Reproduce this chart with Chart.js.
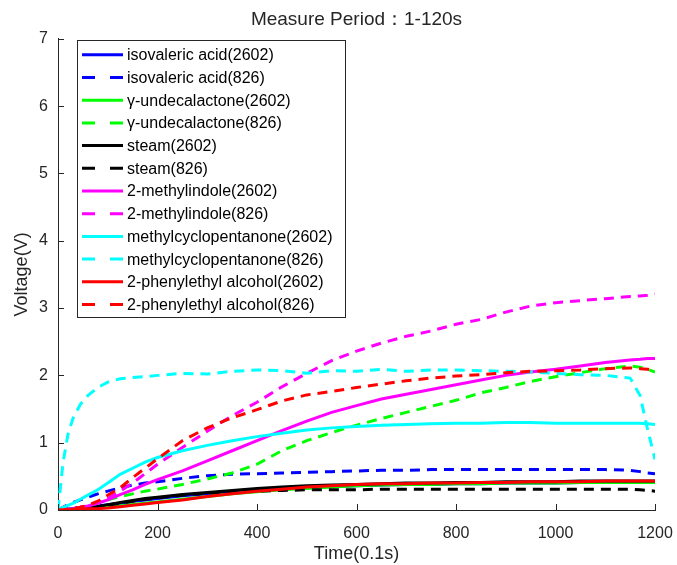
<!DOCTYPE html>
<html>
<head>
<meta charset="utf-8">
<script src="https://cdn.jsdelivr.net/npm/chart.js@4.4.1/dist/chart.umd.min.js"></script>
<style>
  html, body { margin: 0; padding: 0; background: #fff; }
  #wrap { width: 677px; height: 565px; position: relative; }
</style>
</head>
<body>
<div id="wrap"><canvas id="c" width="677" height="565"></canvas></div>
<script>
// ---- data ----
const times = [0, 5, 10, 20, 30, 45, 60, 80, 100, 125, 150, 175, 200, 250, 300, 350, 400, 450, 500, 550, 600, 650, 700, 750, 800, 850, 900, 950, 1000, 1050, 1100, 1150, 1170, 1185, 1200];

const isovaleric2602 = [0, 0, 0.01, 0.01, 0.02, 0.03, 0.04, 0.06, 0.08, 0.1, 0.13, 0.15, 0.17, 0.21, 0.24, 0.27, 0.3, 0.32, 0.34, 0.35, 0.36, 0.37, 0.38, 0.38, 0.39, 0.39, 0.4, 0.4, 0.4, 0.41, 0.41, 0.41, 0.41, 0.41, 0.41];
const isovaleric826 = [0, 0.02, 0.04, 0.08, 0.11, 0.15, 0.19, 0.24, 0.28, 0.33, 0.37, 0.4, 0.42, 0.47, 0.51, 0.53, 0.54, 0.55, 0.56, 0.57, 0.58, 0.59, 0.59, 0.6, 0.6, 0.6, 0.6, 0.6, 0.6, 0.6, 0.6, 0.59, 0.57, 0.55, 0.54];
const undecalactone2602 = [0, 0, 0, 0.01, 0.01, 0.01, 0.02, 0.03, 0.04, 0.06, 0.08, 0.1, 0.12, 0.16, 0.2, 0.24, 0.27, 0.3, 0.32, 0.34, 0.36, 0.37, 0.38, 0.38, 0.39, 0.39, 0.4, 0.4, 0.4, 0.41, 0.41, 0.41, 0.41, 0.41, 0.41];
const undecalactone826 = [0, 0, 0, 0.01, 0.01, 0.02, 0.05, 0.1, 0.15, 0.2, 0.24, 0.28, 0.31, 0.38, 0.46, 0.55, 0.68, 0.88, 1.03, 1.15, 1.26, 1.36, 1.45, 1.54, 1.63, 1.74, 1.82, 1.91, 1.98, 2.04, 2.1, 2.14, 2.12, 2.09, 2.05];
const steam2602 = [0, 0, 0, 0.01, 0.01, 0.02, 0.03, 0.05, 0.08, 0.11, 0.14, 0.17, 0.19, 0.23, 0.26, 0.29, 0.32, 0.34, 0.36, 0.37, 0.38, 0.39, 0.4, 0.4, 0.41, 0.41, 0.42, 0.42, 0.42, 0.43, 0.43, 0.43, 0.43, 0.43, 0.43];
const steam826 = [0, 0, 0, 0.01, 0.01, 0.02, 0.03, 0.05, 0.07, 0.1, 0.13, 0.16, 0.18, 0.22, 0.25, 0.27, 0.28, 0.29, 0.3, 0.3, 0.3, 0.31, 0.31, 0.31, 0.31, 0.31, 0.31, 0.31, 0.31, 0.31, 0.31, 0.31, 0.3, 0.29, 0.28];
const methylindole2602 = [0, 0, 0.01, 0.01, 0.02, 0.04, 0.06, 0.1, 0.15, 0.23, 0.3, 0.38, 0.45, 0.58, 0.73, 0.88, 1.03, 1.18, 1.32, 1.45, 1.55, 1.65, 1.72, 1.79, 1.86, 1.93, 2.0, 2.05, 2.09, 2.14, 2.19, 2.23, 2.24, 2.25, 2.25];
const methylindole826 = [0, 0, 0.01, 0.02, 0.03, 0.04, 0.07, 0.11, 0.17, 0.28, 0.4, 0.54, 0.68, 0.93, 1.17, 1.4, 1.6, 1.83, 2.03, 2.22, 2.36, 2.48, 2.58, 2.66, 2.76, 2.83, 2.94, 3.03, 3.08, 3.11, 3.14, 3.17, 3.18, 3.19, 3.21];
const mcp2602 = [0, 0.02, 0.04, 0.07, 0.1, 0.16, 0.22, 0.3, 0.4, 0.53, 0.62, 0.71, 0.78, 0.88, 0.96, 1.03, 1.09, 1.14, 1.19, 1.22, 1.24, 1.26, 1.27, 1.28, 1.29, 1.29, 1.3, 1.3, 1.29, 1.29, 1.29, 1.29, 1.29, 1.28, 1.27];
const mcp826 = [0, 0.35, 0.7, 1.12, 1.36, 1.57, 1.7, 1.82, 1.9, 1.95, 1.97, 1.98, 2.0, 2.03, 2.02, 2.06, 2.08, 2.07, 2.03, 2.07, 2.06, 2.09, 2.06, 2.08, 2.08, 2.07, 2.06, 2.05, 2.03, 2.01, 2.0, 1.96, 1.7, 1.2, 0.75];
const pea2602 = [0, 0, 0, 0, 0.01, 0.01, 0.02, 0.02, 0.03, 0.05, 0.07, 0.09, 0.11, 0.15, 0.2, 0.24, 0.28, 0.31, 0.34, 0.36, 0.38, 0.39, 0.39, 0.4, 0.4, 0.41, 0.41, 0.42, 0.42, 0.42, 0.43, 0.43, 0.43, 0.43, 0.43];
const pea826 = [0, 0, 0, 0.01, 0.02, 0.04, 0.07, 0.13, 0.22, 0.33, 0.48, 0.62, 0.76, 1.03, 1.22, 1.37, 1.49, 1.62, 1.71, 1.76, 1.82, 1.87, 1.92, 1.96, 1.99, 2.01, 2.04, 2.06, 2.07, 2.08, 2.1, 2.11, 2.1, 2.09, 2.07];

const seriesLabels = [
  'isovaleric acid(2602)', 'isovaleric acid(826)',
  'γ-undecalactone(2602)', 'γ-undecalactone(826)',
  'steam(2602)', 'steam(826)',
  '2-methylindole(2602)', '2-methylindole(826)',
  'methylcyclopentanone(2602)', 'methylcyclopentanone(826)',
  '2-phenylethyl alcohol(2602)', '2-phenylethyl alcohol(826)'
];
const seriesValues = [
  isovaleric2602, isovaleric826, undecalactone2602, undecalactone826,
  steam2602, steam826, methylindole2602, methylindole826,
  mcp2602, mcp826, pea2602, pea826
];
const seriesColors = ['#0000ff', '#0000ff', '#00ff00', '#00ff00', '#000000', '#000000',
                      '#ff00ff', '#ff00ff', '#00ffff', '#00ffff', '#ff0000', '#ff0000'];
const seriesDashed = [false, true, false, true, false, true, false, true, false, true, false, true];

const xTickStep = 200, xMax = 1200, yMax = 7, yTickStep = 1;
const titleText = 'Measure Period：1-120s';
const xTitle = 'Time(0.1s)';
const yTitle = 'Voltage(V)';

// ---- chart ----
const FONT = '"Liberation Sans", Arial, Helvetica, sans-serif';
const AXIS = '#262626';
const PLOT_DASH = [10, 7];
const LEGEND_DASH = [13, 15];

Chart.defaults.font.family = FONT;

const datasets = seriesValues.map((vals, i) => ({
  label: seriesLabels[i],
  data: vals.map((v, k) => ({ x: times[k], y: v })),
  borderColor: seriesColors[i],
  backgroundColor: seriesColors[i],
  borderWidth: 3,
  borderDash: seriesDashed[i] ? PLOT_DASH : [],
  pointRadius: 0,
  tension: 0,
  fill: false,
  order: seriesValues.length - i
}));

const innerTicks = {
  id: 'innerTicks',
  afterDraw(chart) {
    const ctx = chart.ctx;
    const xs = chart.scales.x, ys = chart.scales.y;
    const a = chart.chartArea;
    ctx.save();
    ctx.strokeStyle = AXIS;
    ctx.lineWidth = 1;
    ctx.beginPath();
    ys.ticks.forEach(t => {
      const py = Math.round(ys.getPixelForValue(t.value)) + 0.5;
      ctx.moveTo(a.left, py); ctx.lineTo(a.left + 6, py);
    });
    xs.ticks.forEach(t => {
      const px = Math.round(xs.getPixelForValue(t.value)) + 0.5;
      ctx.moveTo(px, a.bottom); ctx.lineTo(px, a.bottom - 6);
    });
    ctx.stroke();
    ctx.restore();
  }
};

const boxLegend = {
  id: 'boxLegend',
  afterDatasetsDraw(chart) {
    const ctx = chart.ctx;
    const a = chart.chartArea;
    const x0 = a.left + 19, y0 = a.top + 1;
    const w = 268, rowH = 22.7, h = 277;
    ctx.save();
    ctx.fillStyle = '#ffffff';
    ctx.fillRect(x0, y0, w, h);
    ctx.strokeStyle = AXIS;
    ctx.lineWidth = 1;
    ctx.strokeRect(Math.round(x0) + 0.5, Math.round(y0) + 0.5, w, h);
    ctx.font = '16px ' + FONT;
    ctx.textBaseline = 'middle';
    ctx.textAlign = 'left';
    chart.data.datasets.forEach((ds, i) => {
      const cy = y0 + 15 + i * rowH;
      ctx.beginPath();
      ctx.strokeStyle = ds.borderColor;
      ctx.lineWidth = 3;
      ctx.setLineDash(ds.borderDash && ds.borderDash.length ? LEGEND_DASH : []);
      ctx.moveTo(x0 + 5, cy); ctx.lineTo(x0 + 46, cy);
      ctx.stroke();
      ctx.setLineDash([]);
      ctx.fillStyle = '#000000';
      ctx.fillText(ds.label, x0 + 50, cy + 1);
    });
    ctx.restore();
  }
};

new Chart(document.getElementById('c'), {
  type: 'line',
  data: { datasets },
  options: {
    responsive: false,
    animation: false,
    events: [],
    layout: { padding: { left: 0, right: 22, top: 0, bottom: 0 } },
    plugins: {
      legend: { display: false },
      tooltip: { enabled: false },
      title: {
        display: true, text: titleText, color: AXIS, fullSize: false,
        font: { size: 19, weight: 'normal', family: FONT },
        padding: { top: 8, bottom: 8 }
      }
    },
    scales: {
      x: {
        type: 'linear', min: 0, max: xMax,
        ticks: { stepSize: xTickStep, color: AXIS, font: { size: 16 }, padding: 0, maxRotation: 0,
                 callback: v => String(v) },
        grid: { display: false, drawTicks: true, tickLength: 14 },
        border: { display: true, color: AXIS, width: 1 },
        title: { display: true, text: xTitle, color: AXIS, font: { size: 18 }, padding: { top: 0, bottom: 0 } },
        afterFit: s => { s.height = 55; }
      },
      y: {
        type: 'linear', min: 0, max: yMax,
        ticks: { stepSize: yTickStep, color: AXIS, font: { size: 16 }, padding: 10 },
        grid: { display: false, drawTicks: false },
        border: { display: true, color: AXIS, width: 1 },
        title: { display: true, text: yTitle, color: AXIS, font: { size: 18 }, padding: { top: 11, bottom: 0 } },
        afterFit: s => { s.width = 58; }
      }
    }
  },
  plugins: [innerTicks, boxLegend]
});
</script>
</body>
</html>
